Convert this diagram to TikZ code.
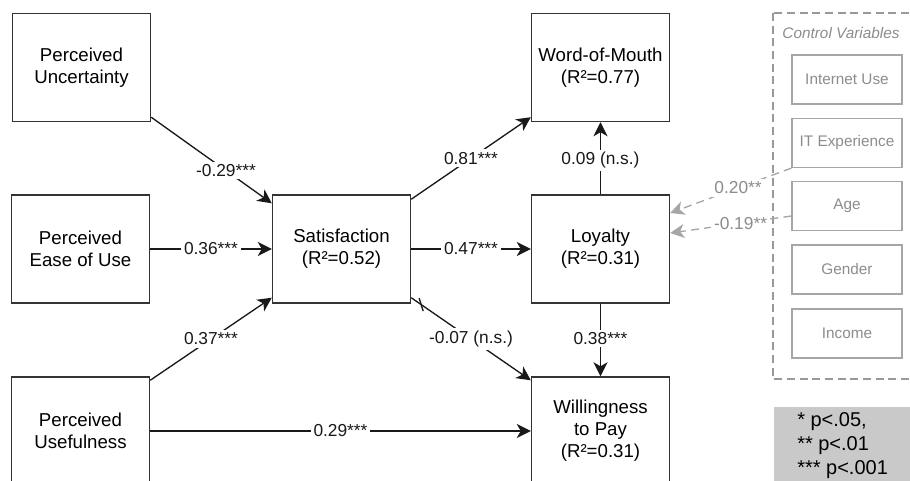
\documentclass[tikz,border=0pt]{standalone}
\usepackage{fontspec}
\setmainfont{Liberation Sans}
\usetikzlibrary{arrows.meta,calc}

\begin{document}
\begin{tikzpicture}[x=0.75pt,y=-0.75pt,
  construct/.style={draw=black!80,line width=1.1pt,minimum width=103.5pt,
    minimum height=81pt,align=center,inner sep=2pt,
    font=\fontsize{14}{16.5}\selectfont},
  ctrlbox/.style={draw=black!35,line width=0.9pt,minimum width=82.5pt,
    minimum height=36.75pt,text=black!45,font=\fontsize{11.5}{13}\selectfont},
  effect/.style={-{Stealth[length=10.5pt,width=10.5pt,inset=3pt]},line width=1pt,black!90},
  ctrleffect/.style={-{Stealth[length=10.5pt,width=10.5pt,inset=3pt]},line width=1pt,
    black!35,dash pattern=on 6pt off 4pt},
  coef/.style={fill=white,inner sep=2pt,font=\fontsize{13}{15}\selectfont},
  ctrlcoef/.style={coef,text=black!45}]
  \clip (0,0) rectangle (910,481);
  % --- Constructs ---
  \node[construct] (unc)  at (81.5,67.5) {Perceived\\Uncertainty};
  \node[construct] (ease) at (80.5,249)  {Perceived\\Ease of Use};
  \node[construct] (use)  at (80.5,431)  {Perceived\\Usefulness};
  \node[construct] (sat)  at (341.5,249) {Satisfaction\\(R²=0.52)};
  \node[construct] (wom)  at (600.5,67.5) {Word-of-Mouth\\(R²=0.77)};
  \node[construct] (loy)  at (600.5,249) {Loyalty\\(R²=0.31)};
  \node[construct] (wtp)  at (600.5,431) {Willingness\\to Pay\\(R²=0.31)};

  % --- Control variables ---
  \draw[black!40,line width=0.9pt,dash pattern=on 6pt off 3.5pt] (773,13) rectangle (912,379);
  \node[text=black!45,font=\fontsize{11.5}{13}\selectfont\itshape] (ctrltitle) at (841,33) {Control Variables};
  \foreach \name/\txt/\y in {inet/Internet Use/79.5,itexp/IT Experience/143,
      age/Age/206,gender/Gender/269.5,income/Income/333.5}
    \node[ctrlbox] (\name) at (847,\y) {\txt};

  % --- Paths ---
  \draw[effect] ([yshift=3.75pt]unc.south east)
    -- node[coef,pos=0.62] {-0.29***} ([yshift=-6.75pt]sat.north west);
  \draw[effect] (ease.east) -- node[coef] {0.36***} (sat.west);
  \draw[effect] ([yshift=-3pt]use.north east)
    -- node[coef] {0.37***} ([yshift=4.5pt]sat.south west);
  \draw[effect] (use.east) -- node[coef] {0.29***} (wtp.west);
  \draw[effect] ([yshift=-3.75pt]sat.north east)
    -- node[coef] {0.81***} ([yshift=3.75pt]wom.south west);
  \draw[effect] (sat.east) -- node[coef] {0.47***} (loy.west);
  \draw[effect] ([yshift=4.5pt]sat.south east)
    -- coordinate[pos=0.083] (nstick)
       node[coef] {-0.07 (n.s.)} ([yshift=-3pt]wtp.north west);
  \draw[line width=1pt,black!90] ($(nstick)+(-2,-6.5)$) -- ($(nstick)+(2,6.5)$);
  \draw[effect] (loy.north) -- node[coef,pos=0.47] {0.09 (n.s.)} (wom.south);
  \draw[effect] (loy.south) -- node[coef,pos=0.48] {0.38***} (wtp.north);
  % control effects
  \draw[ctrleffect] (itexp.south west)
    -- node[ctrlcoef,pos=0.44] {0.20**} ([yshift=27pt]loy.east);
  \draw[ctrleffect] ([yshift=-7.5pt]age.west)
    -- node[ctrlcoef,pos=0.42] {-0.19**} ([yshift=12pt]loy.east);

  % --- Significance legend ---
  \fill[black!21] (774,407) rectangle (912,485);
  \node[anchor=west,align=left,inner sep=0pt,font=\fontsize{15}{18}\selectfont] (signif) at (797,446)
    {* p<.05,\\** p<.01\\*** p<.001};
\end{tikzpicture}
\end{document}
